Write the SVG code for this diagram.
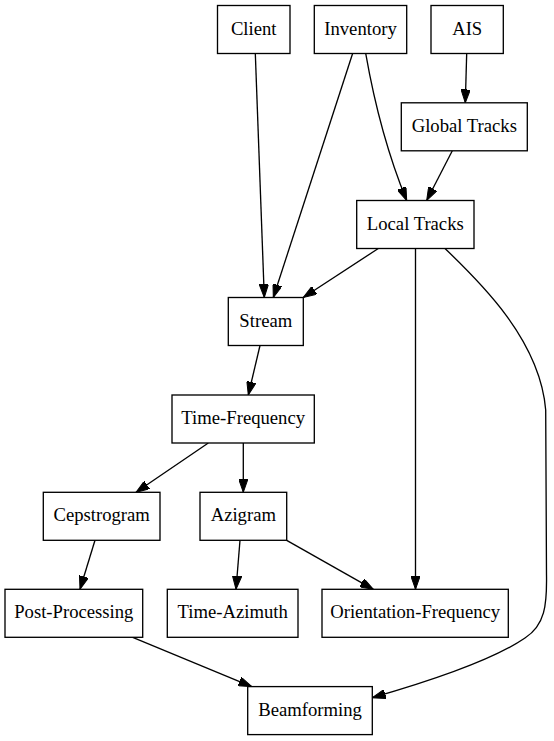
<svg xmlns="http://www.w3.org/2000/svg" width="554" height="741" viewBox="0 0 554 741">
<style>
.node rect{fill:#fff;stroke:#000;stroke-width:1.33}
.node text{font-family:"Liberation Serif","Times New Roman",serif;font-size:18.67px;text-anchor:middle;fill:#000}
.edge{fill:none;stroke:#000;stroke-width:1.33;marker-end:url(#arr)}
</style>
<defs>
<marker id="arr" markerUnits="userSpaceOnUse" viewBox="0 0 13.33 9.33" markerWidth="13.33" markerHeight="9.33" refX="13.33" refY="4.67" orient="auto">
<path d="M0,0 L13.33,4.67 L0,9.33 z" fill="#000" stroke="#000" stroke-width="1"/>
</marker>
</defs>
<rect width="554" height="741" fill="#fff"/>
<g id="connectors">
<path class="edge" d="M255.3,53.3 L264.3,297.5"/>
<path class="edge" d="M352.7,53.3 L273.3,297.5"/>
<path class="edge" d="M365.7,53.3 C373,95 386,150 406.7,200.5"/>
<path class="edge" d="M466.7,53.3 L465.3,102.8"/>
<path class="edge" d="M452.3,150.8 L426.7,200.5"/>
<path class="edge" d="M378.3,248.5 L303.3,297.5"/>
<path class="edge" d="M415.5,248.5 L415.5,589.3"/>
<path class="edge" d="M445,248.5 C480,282 540,340 545.7,410 L546.5,575 C547,605 545,625 525,638 C490,662 420,684 372.3,697.7"/>
<path class="edge" d="M260,345.5 L248.3,395"/>
<path class="edge" d="M208.3,443 L136,492.3"/>
<path class="edge" d="M243.3,443 L243.3,492.3"/>
<path class="edge" d="M95,540.3 L80,589.3"/>
<path class="edge" d="M240,540.3 L236,589.3"/>
<path class="edge" d="M286.7,540.3 L373.3,589.3"/>
<path class="edge" d="M132.7,637.3 L251.7,686.6"/>
</g>
<g id="client" class="node"><rect x="217.5" y="5.5" width="72.5" height="48"/><text x="253.7" y="34.5">Client</text></g>
<g id="inventory" class="node"><rect x="314.3" y="5.5" width="92.4" height="48"/><text x="360.5" y="34.5">Inventory</text></g>
<g id="ais" class="node"><rect x="431" y="5.5" width="72.3" height="48"/><text x="467.2" y="34.5">AIS</text></g>
<g id="global-tracks" class="node"><rect x="401.3" y="102.8" width="126" height="48"/><text x="464.3" y="131.8">Global Tracks</text></g>
<g id="local-tracks" class="node"><rect x="356.7" y="200.5" width="117.3" height="48"/><text x="415.3" y="229.5">Local Tracks</text></g>
<g id="stream" class="node"><rect x="228.3" y="297.5" width="75" height="48"/><text x="265.8" y="326.5">Stream</text></g>
<g id="time-frequency" class="node"><rect x="172" y="395" width="142.3" height="48"/><text x="243.2" y="424">Time-Frequency</text></g>
<g id="cepstrogram" class="node"><rect x="43.3" y="492.3" width="116.7" height="48"/><text x="101.7" y="521.3">Cepstrogram</text></g>
<g id="azigram" class="node"><rect x="200" y="492.3" width="86.7" height="48"/><text x="243.3" y="521.3">Azigram</text></g>
<g id="post-processing" class="node"><rect x="5" y="589.3" width="137.7" height="48"/><text x="73.8" y="618.3">Post-Processing</text></g>
<g id="time-azimuth" class="node"><rect x="167.3" y="589.3" width="130.7" height="48"/><text x="232.7" y="618.3">Time-Azimuth</text></g>
<g id="orientation-frequency" class="node"><rect x="322" y="589.3" width="186.3" height="48"/><text x="415.2" y="618.3">Orientation-Frequency</text></g>
<g id="beamforming" class="node"><rect x="247.7" y="686.6" width="124.6" height="48"/><text x="310" y="715.6">Beamforming</text></g>
</svg>
